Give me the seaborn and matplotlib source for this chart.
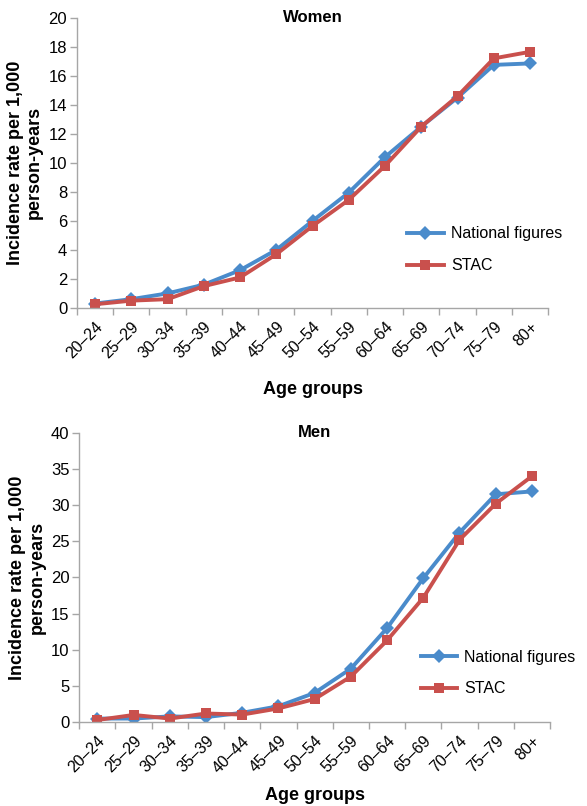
import numpy as np
import pandas as pd
import seaborn as sns
import matplotlib.pyplot as plt
from matplotlib.lines import Line2D

age_groups = ['20–24', '25–29', '30–34', '35–39', '40–44', '45–49', '50–54',
              '55–59', '60–64', '65–69', '70–74', '75–79', '80+']

women_national = [0.3, 0.6, 1.0, 1.6, 2.6, 4.0, 6.0, 7.95, 10.4, 12.5, 14.5, 16.75, 16.85]
women_stac = [0.25, 0.5, 0.6, 1.5, 2.1, 3.7, 5.65, 7.45, 9.8, 12.5, 14.6, 17.2, 17.65]

men_national = [0.5, 0.5, 0.8, 0.7, 1.3, 2.2, 4.05, 7.4, 13.0, 19.9, 26.2, 31.5, 31.9]
men_stac = [0.3, 1.0, 0.5, 1.2, 1.05, 1.9, 3.2, 6.3, 11.3, 17.2, 25.2, 30.2, 34.0]

series_names = ['National figures', 'STAC']
colors = {'National figures': '#4A8BCB', 'STAC': '#C9504D'}
markers = {'National figures': 'D', 'STAC': 's'}

plt.rcParams['font.family'] = ['Liberation Sans', 'DejaVu Sans']


def long_frame(national, stac):
    return pd.DataFrame({
        'age': age_groups * 2,
        'rate': national + stac,
        'series': [series_names[0]] * len(age_groups) + [series_names[1]] * len(age_groups),
    })


fig = plt.figure(figsize=(5.87, 8.06), dpi=100)
ax_w = fig.add_axes([0.131, 0.618, 0.803, 0.360])
ax_m = fig.add_axes([0.135, 0.104, 0.802, 0.359])

panels = [
    (ax_w, long_frame(women_national, women_stac), 'Women', 20, 2, (0.70, 0.20), 14),
    (ax_m, long_frame(men_national, men_stac), 'Men', 40, 5, (0.725, 0.17), 8),
]

for ax, df, title, ymax, step, leg_pos, xpad in panels:
    sns.lineplot(data=df, x='age', y='rate', hue='series', style='series',
                 palette=colors, markers=markers, dashes=False, sort=False,
                 linewidth=2.8, markersize=7.5, markeredgewidth=0, ax=ax, legend=False)
    ax.set_xlim(-0.5, len(age_groups) - 0.5)
    ax.set_ylim(0, ymax)
    ax.set_yticks(np.arange(0, ymax + 1, step))
    ax.set_xticks(range(len(age_groups)))
    ax.set_xticklabels(age_groups, rotation=45, ha='right', rotation_mode='anchor')
    ax.set_xticks(np.arange(-0.5, len(age_groups), 1), minor=True)
    ax.tick_params(axis='x', which='major', length=0, pad=8, labelsize=11.5)
    ax.tick_params(axis='x', which='minor', length=5, color='#A6A6A6', width=1)
    ax.tick_params(axis='y', length=5, color='#A6A6A6', width=1, labelsize=12, pad=2)
    for s in ['top', 'right']:
        ax.spines[s].set_visible(False)
    for s in ['left', 'bottom']:
        ax.spines[s].set_color('#A6A6A6')
        ax.spines[s].set_linewidth(1)
    ax.set_xlabel('Age groups', fontsize=13, fontweight='bold', labelpad=xpad)
    ax.set_ylabel('Incidence rate per 1,000\nperson-years', fontsize=13,
                  fontweight='bold', labelpad=4, linespacing=1.15)
    ax.text(0.5, 1.0, title, transform=ax.transAxes, ha='center', va='center',
            fontsize=12, fontweight='bold')
    handles = [Line2D([], [], color=colors[n], marker=markers[n], linewidth=2.8,
                      markersize=7.5, markeredgewidth=0) for n in series_names]
    ax.legend(handles, series_names, loc='center left', bbox_to_anchor=leg_pos,
              frameon=False, fontsize=11.5, handlelength=2.3, labelspacing=1.05,
              handletextpad=0.45, borderaxespad=0, borderpad=0)

fig.savefig('out.png', dpi=100)
